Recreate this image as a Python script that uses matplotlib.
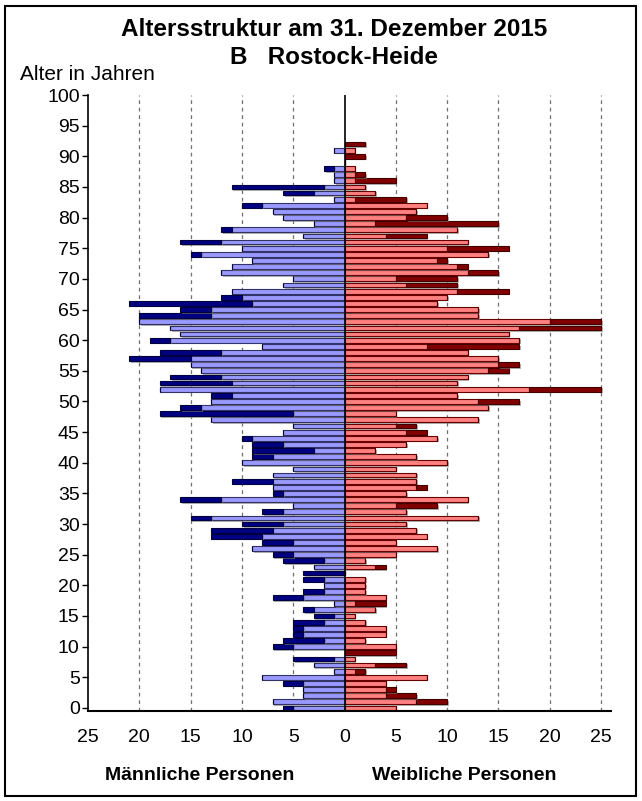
import matplotlib
matplotlib.use("Agg")
import matplotlib.pyplot as plt
import matplotlib.patheffects as pe
from matplotlib.patches import Rectangle
import numpy as np

plt.rcParams['font.family'] = ['Liberation Sans', 'DejaVu Sans']

# Einwohner je Altersjahr (0 .. 92)
ages = np.arange(0, 93)
maennlich = [6, 7, 4, 4, 6, 8, 1, 3, 5, 0,
             7, 6, 5, 5, 5, 3, 4, 1, 7, 4,
             2, 4, 4, 3, 6, 7, 9, 8, 13, 13,
             10, 15, 8, 5, 16, 7, 7, 11, 7, 5,
             10, 9, 9, 9, 10, 6, 5, 13, 18, 16,
             13, 13, 18, 18, 17, 14, 15, 21, 18, 8,
             19, 16, 17, 20, 20, 16, 21, 12, 11, 6,
             5, 12, 11, 9, 15, 10, 16, 4, 12, 3,
             6, 7, 10, 1, 6, 11, 1, 1, 2, 0,
             0, 1, 0]
weiblich = [5, 10, 7, 5, 4, 8, 2, 6, 1, 5,
            5, 2, 4, 4, 2, 1, 3, 4, 4, 2,
            2, 2, 0, 4, 2, 5, 9, 5, 8, 7,
            6, 13, 6, 9, 12, 6, 8, 7, 7, 5,
            10, 7, 3, 6, 9, 8, 7, 13, 5, 14,
            17, 11, 25, 11, 12, 16, 17, 15, 12, 17,
            17, 16, 25, 25, 13, 13, 9, 10, 16, 11,
            11, 15, 12, 10, 14, 16, 12, 8, 11, 15,
            10, 7, 8, 6, 3, 2, 5, 2, 1, 0,
            2, 1, 2]

x_ticks = [-25, -20, -15, -10, -5, 0, 5, 10, 15, 20, 25]
y_ticks = list(range(0, 101, 5))

m = np.array(maennlich)
w = np.array(weiblich)
gemeinsam = np.minimum(m, w)
m_ueber = m - gemeinsam
w_ueber = w - gemeinsam

fig = plt.figure(figsize=(6.42, 8.01), dpi=100)
# x-Achse reicht etwas ueber 25 hinaus
ax = fig.add_axes([88 / 642, 90 / 801, 523.3 / 642, 616 / 801])

shadow = [pe.SimplePatchShadow(offset=(1.2, -1.2), shadow_rgbFace='#808080', alpha=0.6), pe.Normal()]
h = 0.78

b1 = ax.barh(ages, -gemeinsam, height=h, color='#9999ff', edgecolor='#333366', linewidth=0.8)
b2 = ax.barh(ages, -m_ueber, left=-gemeinsam, height=h, color='#000080', edgecolor='#000040', linewidth=0.8)
b3 = ax.barh(ages, gemeinsam, height=h, color='#ff8080', edgecolor='#660000', linewidth=0.8)
b4 = ax.barh(ages, w_ueber, left=gemeinsam, height=h, color='#800000', edgecolor='#400000', linewidth=0.8)
for bars in (b1, b2, b3, b4):
    for p in bars:
        if p.get_width() != 0:
            p.set_path_effects(shadow)

ax.axvline(0, color='black', linewidth=1.2, zorder=5)
for xv in [-20, -15, -10, -5, 5, 10, 15, 20, 25]:
    ax.axvline(xv, color='#707070', linestyle=(0, (3, 3)), linewidth=0.9, zorder=0)

ax.set_xlim(-25, 26)
ax.set_ylim(-0.5, 100)
ax.set_xticks(x_ticks)
ax.set_xticklabels([str(abs(v)) for v in x_ticks], fontsize=14)
ax.set_yticks(y_ticks)
ax.set_yticklabels([str(v) for v in y_ticks], fontsize=14)
ax.tick_params(axis='x', length=0, pad=13)
ax.tick_params(axis='y', length=4, width=1, pad=2)

ax.spines['top'].set_visible(False)
ax.spines['right'].set_visible(False)
ax.spines['left'].set_linewidth(1.2)
ax.spines['bottom'].set_linewidth(1.5)

fig.text(334 / 642, 1 - 30 / 801, "Altersstruktur am 31. Dezember 2015", ha='center', va='center',
         fontsize=17.5, fontweight='bold')
fig.text(334 / 642, 1 - 57 / 801, "B   Rostock-Heide", ha='center', va='center',
         fontsize=17.5, fontweight='bold')
fig.text(20 / 642, 1 - 74 / 801, "Alter in Jahren", ha='left', va='center', fontsize=15)
fig.text(200 / 642, 1 - 776 / 801, "Männliche Personen", ha='center', va='center',
         fontsize=14, fontweight='bold')
fig.text(464 / 642, 1 - 776 / 801, "Weibliche Personen", ha='center', va='center',
         fontsize=14, fontweight='bold')

fig.patches.append(Rectangle((5 / 642, 5 / 801), 631 / 642, 790 / 801, transform=fig.transFigure,
                             fill=False, edgecolor='black', linewidth=1.5))

fig.savefig("out.png", dpi=100)
